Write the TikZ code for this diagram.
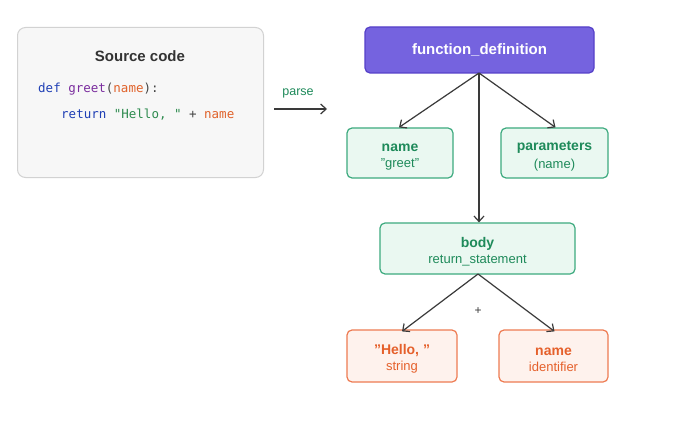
\documentclass[tikz,border=0pt]{standalone}
\usepackage{fontspec}
\setmainfont{Liberation Sans}[Ligatures=NoCommon]
\setmonofont{DejaVu Sans Mono}
\usetikzlibrary{arrows.meta}
\definecolor{srcfill}{HTML}{F7F7F7}
\definecolor{srcdraw}{HTML}{D2D2D2}
\definecolor{titlegray}{HTML}{333333}
\definecolor{kwblue}{HTML}{1F3FB5}
\definecolor{fnpurple}{HTML}{7A2C9E}
\definecolor{idorange}{HTML}{E0622A}
\definecolor{strgreen}{HTML}{2E8B4F}
\definecolor{punct}{HTML}{444444}
\definecolor{pfill}{HTML}{7563DF}
\definecolor{pdraw}{HTML}{5540C8}
\definecolor{gfill}{HTML}{EAF8F1}
\definecolor{gdraw}{HTML}{3DAA7F}
\definecolor{gtext}{HTML}{1E8A5A}
\definecolor{ofill}{HTML}{FEF2ED}
\definecolor{odraw}{HTML}{EE7B52}
\definecolor{otext}{HTML}{E5602B}
\definecolor{arr}{HTML}{3A3A3A}
\tikzset{
  gbox/.style={draw=gdraw, fill=gfill, line width=1.2pt, rounded corners=5pt, align=center, text=gtext},
  obox/.style={draw=odraw, fill=ofill, line width=1.2pt, rounded corners=5pt, align=center, text=otext},
  conn/.style={draw=arr, line width=1.2pt, -{Straight Barb[length=5.5pt,width=10pt]}},
}
\newcommand{\ttltxt}[1]{{\fontsize{14}{16}\selectfont\bfseries\rule{0pt}{16pt}#1}}
\newcommand{\subtxt}[1]{{\fontsize{13}{15}\selectfont\mdseries #1}}
\newcommand{\dq}{\symbol{34}}
\begin{document}
\begin{tikzpicture}[x=1pt,y=-1pt]
\useasboundingbox[fill=white] (0,0) rectangle (700,422);
% source code box
\node[draw=srcdraw, fill=srcfill, line width=1pt, rounded corners=8pt, minimum width=246pt, minimum height=150pt, anchor=north west] (src) at (17,27) {};
\node[text=titlegray, font=\fontsize{15}{18}\selectfont\bfseries] (srct) at (140,56) {Source code};
\node[anchor=west, font=\ttfamily\fontsize{12.5}{15}\selectfont, inner sep=0pt] (l1) at (38,89) {\textcolor{kwblue}{def} \textcolor{fnpurple}{greet}\textcolor{punct}{(}\textcolor{idorange}{name}\textcolor{punct}{):}};
\node[anchor=west, font=\ttfamily\fontsize{12.5}{15}\selectfont, inner sep=0pt] (l2) at (61,115) {\textcolor{kwblue}{return} \textcolor{strgreen}{"Hello, "} \textcolor{punct}{+} \textcolor{idorange}{name}};
% parse arrow
\coordinate (pa) at (274,109);
\coordinate (pb) at (327,109);
\draw[conn] (pa) -- (pb);
\node[text=gtext, font=\fontsize{12.5}{15}\selectfont] (parse) at (298,93) {parse};
% function_definition
\node[draw=pdraw, fill=pfill, line width=1.2pt, rounded corners=5pt, minimum width=229pt, minimum height=46pt, text=white, font=\fontsize{15}{18}\selectfont\bfseries] (fd) at (479.5,50) {function\_definition};
% name, parameters
\node[gbox, minimum width=106pt, minimum height=50pt] (nm) at (400,153) {\ttltxt{name}\\[4pt]\subtxt{\dq greet\dq}};
\node[gbox, minimum width=107pt, minimum height=50pt] (pr) at (554.5,153) {\ttltxt{parameters}\\[4pt]\subtxt{(name)}};
% body
\node[gbox, minimum width=195pt, minimum height=51pt] (bd) at (477.5,248.5) {\ttltxt{body}\\[4pt]\subtxt{return\_statement}};
% leaves
\node[obox, minimum width=110pt, minimum height=52pt] (hl) at (402,356) {\ttltxt{\dq Hello, \dq}\\[4pt]\subtxt{string}};
\node[obox, minimum width=109pt, minimum height=52pt] (id) at (553.5,356) {\ttltxt{name}\\[4pt]\subtxt{identifier}};
% connectors
\coordinate (fdb) at (479,73);
\draw[conn] (fdb) -- ([xshift=-1pt]nm.north);
\draw[conn] (fdb) -- ([xshift=1pt]pr.north);
\draw[conn] (fdb) -- (bd.north -| fdb);
\coordinate (bdb) at (478,274);
\draw[conn] (bdb) -- ([yshift=-2pt]hl.north);
\draw[conn] (bdb) -- ([yshift=-2pt,xshift=1pt]id.north);
\node[text=arr, font=\fontsize{12}{14}\selectfont] (plus) at (478,311) {+};
\end{tikzpicture}
\end{document}
